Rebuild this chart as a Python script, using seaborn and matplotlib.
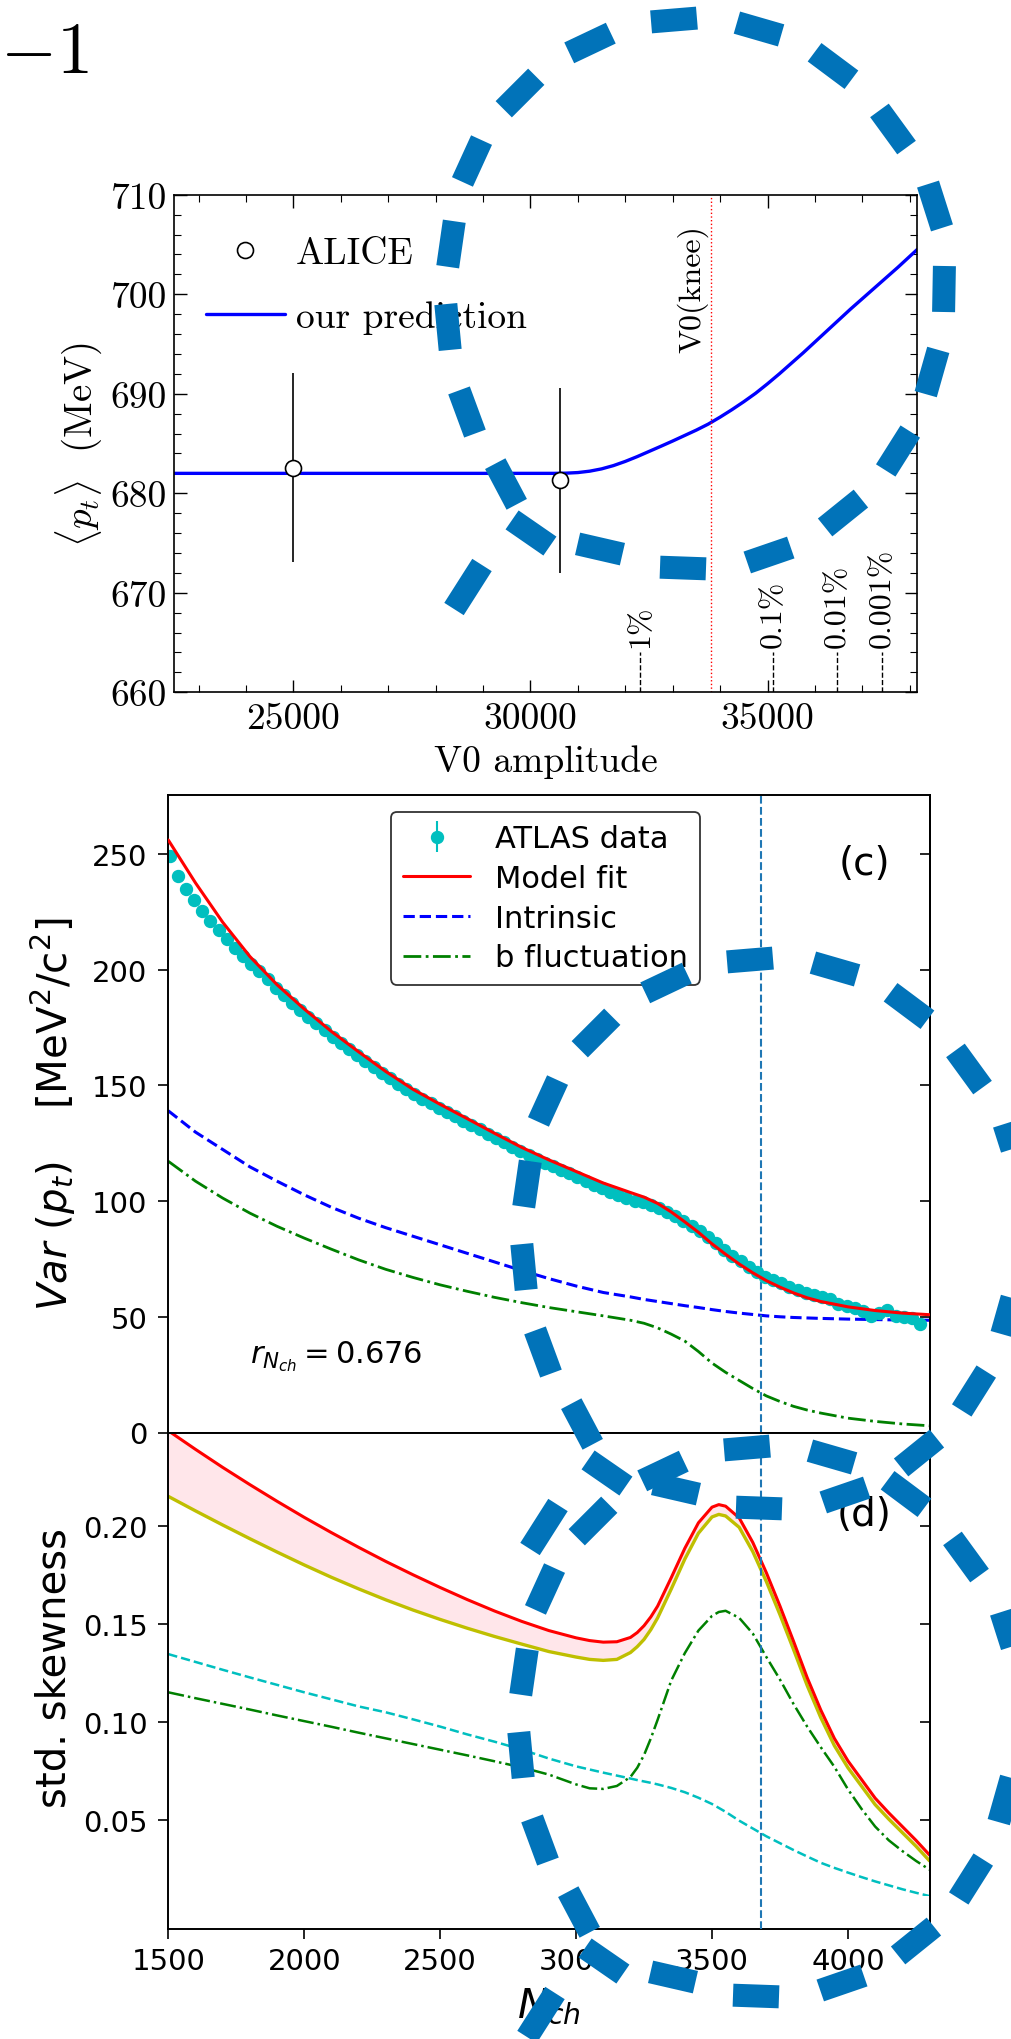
import numpy as np
import pandas as pd
import matplotlib
matplotlib.use("Agg")
import matplotlib.pyplot as plt
import seaborn as sns
from matplotlib.lines import Line2D
from matplotlib.ticker import MultipleLocator

sns.set_style("ticks")
plt.rcParams['font.family'] = ['DejaVu Sans']
plt.rcParams['mathtext.fontset'] = 'dejavusans'
plt.rcParams.update({'axes.edgecolor': 'black', 'text.color': 'black',
                     'xtick.color': 'black', 'ytick.color': 'black',
                     'axes.labelcolor': 'black', 'axes.linewidth': 1.4})
CM = ['cmr10', 'DejaVu Serif']

# ---------------- top panel: <p_t> vs V0 amplitude ----------------
v0_pred = [22480, 30500, 30750, 31000, 31250, 31500, 31750, 32000, 32250, 32500, 32750,
           33000, 33250, 33500, 33750, 34000, 34250, 34500, 34750, 35000, 35250, 35500,
           35750, 36000, 36250, 36500, 36750, 37000, 37250, 37500, 37750, 38000, 38160]
pt_pred = [682.0, 682.0, 682.02, 682.08, 682.22, 682.45, 682.78, 683.2, 683.68, 684.2, 684.72,
           685.25, 685.8, 686.35, 686.95, 687.65, 688.4, 689.2, 690.05, 691.0, 692.0, 693.05,
           694.1, 695.2, 696.3, 697.4, 698.5, 699.55, 700.6, 701.65, 702.7, 703.8, 704.5]
alice_v0 = [25000, 30620]
alice_pt = [682.55, 681.3]
alice_err = [9.5, 9.3]
v0_knee = 33810
pct_v0 = [32312, 35112, 36462, 37411]
pct_labels = ['1%', '0.1%', '0.01%', '0.001%']
xt1 = [25000, 30000, 35000]
yt1 = [660, 670, 680, 690, 700, 710]

# ---------------- panel (c): Var(p_t) vs N_ch ----------------
n_c = [1500, 1600, 1700, 1800, 1900, 2000, 2100, 2200, 2300, 2400, 2500, 2600,
       2700, 2800, 2900, 3000, 3100, 3200, 3250, 3300, 3350, 3400, 3450, 3500,
       3550, 3600, 3650, 3700, 3750, 3800, 3850, 3900, 4000, 4100, 4200, 4300]
var_fit = [256, 237.5, 220.5, 205.7, 193.5, 183, 173.3, 164.5, 156, 148.3, 141.8, 135.6,
           129.3, 123.2, 117.8, 112.8, 107.8, 103.7, 101.7, 99, 95.3, 91, 86.5, 81.5,
           77, 72.8, 69, 65.6, 62.8, 60.3, 58.2, 56.6, 54.3, 52.7, 51.6, 50.9]
var_intr = [139, 129.8, 122.3, 114.8, 108.6, 102.7, 97.3, 92.6, 88.5, 84.8, 81.1, 77.4,
            73.7, 70.0, 66.5, 63.3, 60.5, 58.6, 57.5, 56.6, 55.7, 54.8, 54.0, 53.1,
            52.3, 51.6, 51.0, 50.4, 50.0, 49.7, 49.5, 49.3, 49.0, 48.8, 48.6, 48.5]
var_bfl = [117.2, 108.6, 101.3, 94.8, 89.1, 84.0, 79.2, 74.6, 70.5, 67.0, 63.8, 61.0,
           58.4, 56.1, 54.0, 52.2, 50.4, 48.5, 47.2, 45.2, 42.5, 39.5, 35.0, 30.0,
           26.0, 22.5, 19.0, 15.8, 13.4, 11.3, 9.7, 8.4, 6.2, 4.8, 3.7, 2.9]
atlas_n = [1505, 1535, 1565, 1595, 1625, 1655, 1685, 1715, 1745, 1775, 1805, 1835,
           1865, 1895, 1925, 1955, 1985, 2015, 2045, 2075, 2105, 2135, 2165, 2195,
           2225, 2255, 2285, 2315, 2345, 2375, 2405, 2435, 2465, 2495, 2525, 2555,
           2585, 2615, 2645, 2675, 2705, 2735, 2765, 2795, 2825, 2855, 2885, 2915,
           2945, 2975, 3005, 3035, 3065, 3095, 3125, 3155, 3185, 3215, 3245, 3275,
           3305, 3335, 3365, 3395, 3425, 3455, 3485, 3515, 3545, 3575, 3605, 3635,
           3665, 3695, 3725, 3755, 3785, 3815, 3845, 3875, 3905, 3935, 3965, 3995,
           4025, 4055, 4085, 4115, 4145, 4175, 4205, 4235, 4265]
atlas_var = [249.1, 240.5, 235.0, 229.9, 225.3, 221.2, 217.1, 213.3, 209.3, 205.9, 202.6, 199.4,
             195.8, 192.1, 188.9, 185.7, 182.6, 179.7, 176.8, 173.9, 171.1, 168.4, 165.8, 163.1,
             160.6, 158.0, 155.5, 153.0, 150.7, 148.4, 146.2, 144.2, 142.3, 140.3, 138.5, 136.6,
             134.7, 132.9, 131.0, 129.1, 127.2, 125.4, 123.5, 121.7, 119.9, 118.2, 116.6, 115.1,
             113.6, 112.1, 110.4, 108.6, 107.1, 105.6, 104.0, 102.5, 101.3, 100.1, 99.4, 98.4,
             97.1, 95.4, 93.5, 91.4, 89.3, 87.0, 84.5, 81.7, 79.0, 76.4, 73.9, 71.6,
             69.5, 67.4, 66.0, 64.6, 63.0, 61.7, 60.4, 59.4, 58.5, 57.8, 55.6, 54.8,
             53.9, 52.5, 50.5, 51.5, 52.8, 50.5, 49.8, 49.3, 47.0]
atlas_err = 0.6
n_knee = 3680
yt_c = [0, 50, 100, 150, 200, 250]

# ---------------- panel (d): std. skewness vs N_ch ----------------
n_d = [1500, 1600, 1700, 1800, 1900, 2000, 2100, 2200, 2300, 2400, 2500, 2600, 2700,
       2800, 2900, 3000, 3050, 3100, 3150, 3200, 3225, 3250, 3275, 3300, 3350, 3400, 3450,
       3500, 3525, 3550, 3600, 3650, 3700, 3750, 3800, 3850, 3900, 3950, 4000, 4050, 4100,
       4150, 4200, 4250, 4300]
sk_fit = [.2485, .2390, .2298, .2210, .2125, .2043, .1965, .1890, .1818, .1750, .1685, .1623, .1565,
          .1512, .1465, .1428, .1414, .1406, .1408, .1430, .1455, .1490, .1535, .1590, .1735, .1885,
          .2015, .2095, .2108, .2100, .2040, .1915, .1760, .1590, .1410, .1225, .1060, .0915, .0800,
          .0705, .0610, .0535, .0465, .0395, .0320]
sk_low = [.2150, .2076, .2004, .1934, .1866, .1800, .1737, .1678, .1622, .1570, .1522, .1477, .1435,
          .1396, .1358, .1330, .1318, .1313, .1318, .1353, .1383, .1420, .1470, .1530, .1677, .1830,
          .1962, .2045, .2058, .2050, .1992, .1868, .1715, .1546, .1368, .1185, .1021, .0878, .0765,
          .0671, .0577, .0503, .0434, .0365, .0290]
sk_intr = [.1345, .1305, .1265, .1226, .1188, .1150, .1114, .1078, .1048, .1012, .0975, .0935, .0898,
           .0858, .0812, .0772, .0756, .0740, .0725, .0710, .0702, .0695, .0688, .0680, .0662, .0640,
           .0612, .0580, .0560, .0540, .0495, .0455, .0415, .0380, .0345, .0312, .0280, .0254, .0230,
           .0207, .0185, .0165, .0145, .0127, .0110]
sk_bfl = [.1150, .1120, .1091, .1062, .1032, .1003, .0974, .0944, .0915, .0886, .0857, .0828, .0798,
          .0767, .0730, .0680, .0660, .0657, .0672, .0718, .0765, .0830, .0915, .1010, .1210, .1350,
          .1465, .1540, .1560, .1566, .1530, .1450, .1330, .1215, .1090, .0975, .0870, .0770, .0655,
          .0555, .0465, .0395, .0340, .0290, .0245]
xt_d = [1500, 2000, 2500, 3000, 3500, 4000]
yt_d = [0.05, 0.10, 0.15, 0.20]

# ---------------- figure ----------------
W, H = 1011, 2040
fig = plt.figure(figsize=(W / 100, H / 100), dpi=100)
fig.patch.set_facecolor('white')


def rect(l, t, r, b):
    return [l / W, 1 - b / H, (r - l) / W, (b - t) / H]


# ---- top panel ----
ax1 = fig.add_axes(rect(174, 195.7, 917.3, 693.3))
sns.lineplot(x=v0_pred, y=pt_pred, ax=ax1, color='blue', lw=2.4, legend=False)
ax1.errorbar(alice_v0, alice_pt, yerr=alice_err, fmt='o', ms=11.5, mfc='white', mec='black',
             mew=1.2, ecolor='black', elinewidth=1.2, capsize=0, zorder=4)
ax1.axvline(v0_knee, color='red', ls=':', lw=1.0)
ax1.vlines(pct_v0, 660, 664.05, colors='black', linestyles='--', lw=1.0)
for xv, lab in zip(pct_v0, pct_labels):
    ax1.text(xv, 664.55, lab, rotation=90, ha='center', va='bottom', fontsize=23, fontfamily=CM)
ax1.text(v0_knee - 60, 707.1, 'V0(knee)', rotation=90, ha='right', va='top', fontsize=23,
         fontfamily=CM)
ax1.set_xlim(22480, 38160)
ax1.set_ylim(660, 710)
ax1.set_xticks(xt1, labels=[str(v) for v in xt1])
ax1.set_yticks(yt1, labels=[str(v) for v in yt1])
ax1.xaxis.set_minor_locator(MultipleLocator(1000))
ax1.yaxis.set_minor_locator(MultipleLocator(2))
ax1.tick_params(which='both', direction='in', top=True, right=True, labelsize=27)
ax1.tick_params(which='major', length=9, width=1.0)
ax1.tick_params(which='minor', length=5, width=0.8)
ax1.tick_params(axis='x', pad=7)
ax1.tick_params(axis='y', pad=5)
for lab in ax1.get_xticklabels() + ax1.get_yticklabels():
    lab.set_fontfamily(CM)
for sp in ax1.spines.values():
    sp.set_linewidth(1.2)
ax1.set_xlabel('V0 amplitude', fontsize=27, fontfamily=CM)
ax1.set_ylabel(r'$\langle p_t\rangle$  (MeV)', fontsize=28, fontfamily=CM, math_fontfamily='cm')
ax1.xaxis.set_label_coords(0.5, -0.105)
ax1.yaxis.set_label_coords(-0.094, 0.5)
h1 = [Line2D([], [], ls='none', marker='o', ms=11.5, mfc='white', mec='black', mew=1.2),
      Line2D([], [], color='blue', lw=2.4)]
ax1.legend(h1, ['ALICE', 'our prediction'], loc='upper left', bbox_to_anchor=(0.043, 0.915),
           frameon=False, borderpad=0, borderaxespad=0, handlelength=2.1, handletextpad=0.3,
           labelspacing=0.8, prop={'family': CM, 'size': 27})

# ---- panel (c) ----
axc = fig.add_axes(rect(168.3, 795.7, 929.5, 1433.5))
atl = axc.errorbar(atlas_n, atlas_var, yerr=atlas_err, fmt='o', ms=8.6, color='c', ecolor='c',
                   elinewidth=1.5, zorder=2)
sns.lineplot(x=n_c, y=var_fit, ax=axc, color='red', lw=2.2, legend=False, zorder=3)
sns.lineplot(x=n_c, y=var_intr, ax=axc, color='blue', lw=2.2, ls='--', legend=False)
sns.lineplot(x=n_c, y=var_bfl, ax=axc, color='green', lw=2.0, ls='-.', legend=False)
axc.axvline(n_knee, color='#1f77b4', ls='--', lw=1.5)
axc.set_xlim(1500, 4300)
axc.set_ylim(0, 275.6)
axc.set_yticks(yt_c, labels=[str(v) for v in yt_c])
axc.tick_params(axis='y', direction='out', length=7, width=1.2, labelsize=21, pad=8)
axc.tick_params(axis='x', bottom=False, labelbottom=False)
axc.set_xlabel('')
sec_c = axc.secondary_yaxis('right')
sec_c.set_yticks(yt_c)
sec_c.tick_params(direction='in', length=7, width=1.2, labelright=False)
sec_c.spines['right'].set_linewidth(1.4)
axc.set_ylabel(r'$Var\ (p_t)$    [MeV$^2$/c$^2$]', fontsize=29)
axc.yaxis.set_label_coords(-0.1186, 0.5)
hc = [atl,
      Line2D([], [], color='red', lw=2.2),
      Line2D([], [], color='blue', lw=2.2, ls='--'),
      Line2D([], [], color='green', lw=2.0, ls='-.')]
legc = axc.legend(hc, ['ATLAS data', 'Model fit', 'Intrinsic', 'b fluctuation'], loc='upper left',
                  bbox_to_anchor=(0.2926, 0.9729), borderaxespad=0, fontsize=22, labelspacing=0.35,
                  handlelength=2.2, edgecolor='0.2', framealpha=1, fancybox=True)
legc.get_frame().set_linewidth(1.3)
axc.text(0.914, 0.893, '(c)', transform=axc.transAxes, ha='center', va='center', fontsize=28)
axc.text(0.107, 0.1105, r'$r_{N_{ch}} = 0.676$', transform=axc.transAxes, ha='left',
         va='baseline', fontsize=22)

# ---- panel (d) ----
axd = fig.add_axes(rect(168.3, 1433.5, 929.5, 1930))
axd.fill_between(n_d, sk_fit, sk_low, color='#ffe6ea', lw=0)
sns.lineplot(x=n_d, y=sk_low, ax=axd, color='#bfbf00', lw=2.4, legend=False)
sns.lineplot(x=n_d, y=sk_fit, ax=axd, color='red', lw=2.2, legend=False)
sns.lineplot(x=n_d, y=sk_intr, ax=axd, color='#00bfbf', lw=1.8, ls='--', legend=False)
sns.lineplot(x=n_d, y=sk_bfl, ax=axd, color='green', lw=1.8, ls='-.', legend=False)
axd.axhspan(-0.0058, 0.0108, color='white', zorder=2.4, lw=0)
axd.axvline(n_knee, color='#1f77b4', ls='--', lw=1.5, zorder=2.6)
axd.set_xlim(1500, 4300)
axd.set_ylim(-0.0058, 0.2476)
axd.set_xticks(xt_d, labels=[str(v) for v in xt_d])
axd.set_yticks(yt_d, labels=['%.2f' % v for v in yt_d])
axd.tick_params(direction='out', length=7, width=1.2, labelsize=21)
axd.tick_params(axis='x', pad=6)
axd.tick_params(axis='y', pad=8)
sec_d = axd.secondary_yaxis('right')
sec_d.set_yticks(yt_d)
sec_d.tick_params(direction='in', length=7, width=1.2, labelright=False)
sec_d.spines['right'].set_linewidth(1.4)
axd.set_ylabel('std. skewness', fontsize=29)
axd.yaxis.set_label_coords(-0.123, 0.528)
axd.set_xlabel(r'$N_{ch}$', fontsize=29)
axd.xaxis.set_label_coords(0.5, -0.113)
axd.text(0.914, 0.836, '(d)', transform=axd.transAxes, ha='center', va='center', fontsize=28)

# ---- page number fragment ----
fig.text(0.0, 1 - 73 / H, r'$-1$', fontsize=52, math_fontfamily='cm', ha='left', va='baseline')

# ---- decorative hand-drawn dashed loops pasted over the collage ----
ov = fig.add_axes([0, 0, 1, 1], zorder=10)
ov.set_xlim(0, W)
ov.set_ylim(H, 0)
ov.axis('off')
ov.patch.set_alpha(0)
LOOP_C = '#0173B9'
# dash centres of one loop (pixels, relative to the page), in drawing order
loop_dx = [472, 520, 590, 674, 759, 833, 893, 935, 944, 932, 898, 843, 769, 683, 600, 531,
           506, 467, 448, 451]
loop_dy = [162, 94, 44, 21, 30, 67, 130, 207, 290, 373, 452, 514, 556, 569, 550, 534,
           485, 413, 328, 245]
tail = [(482, 566), (454, 610)]
loop_offsets = [(0, 0), (76, 940), (73, 1428)]
DASH_LEN = 46
LOOP_LW = 23 * 72 / 100

px = np.array(loop_dx, float)
py = np.array(loop_dy, float)
nxt_x, prv_x = np.roll(px, -1), np.roll(px, 1)
nxt_y, prv_y = np.roll(py, -1), np.roll(py, 1)
tx, ty = nxt_x - prv_x, nxt_y - prv_y
nrm = np.hypot(tx, ty)
tx, ty = tx / nrm, ty / nrm
for ox, oy in loop_offsets:
    for cx, cy, ux, uy in zip(px, py, tx, ty):
        ov.plot([cx + ox - ux * DASH_LEN / 2, cx + ox + ux * DASH_LEN / 2],
                [cy + oy - uy * DASH_LEN / 2, cy + oy + uy * DASH_LEN / 2],
                color=LOOP_C, lw=LOOP_LW, solid_capstyle='butt')
    ov.plot([tail[0][0] + ox, tail[1][0] + ox], [tail[0][1] + oy, tail[1][1] + oy],
            color=LOOP_C, lw=LOOP_LW, solid_capstyle='butt')

fig.savefig('out.png', dpi=100)
